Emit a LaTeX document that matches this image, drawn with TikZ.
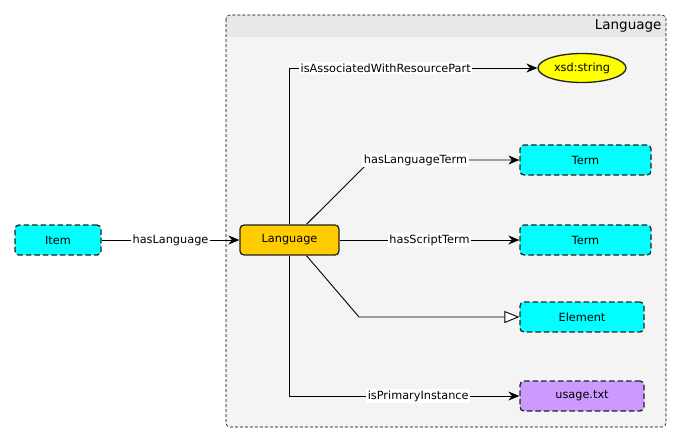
\documentclass[tikz,border=0pt]{standalone}
\usepackage{fontspec}
\setmainfont{DejaVu Sans}
\usetikzlibrary{arrows.meta,shapes.geometric}
\definecolor{cyanbox}{HTML}{00FFFF}
\definecolor{langbox}{HTML}{FFCC00}
\definecolor{purplebox}{HTML}{CC99FF}
\definecolor{yellowbox}{HTML}{FFFF00}
\definecolor{contbody}{HTML}{F4F4F4}
\definecolor{conthead}{HTML}{E8E8E8}
\definecolor{bordergray}{HTML}{222222}
\begin{document}
\begin{tikzpicture}[x=1pt,y=-1pt,
  every node/.style={font=\fontsize{11.3}{13}\selectfont},
  box/.style={rectangle, rounded corners=4pt, line width=1.3pt, draw=bordergray, minimum height=30pt, inner sep=2pt},
  dbox/.style={box, dash pattern=on 5.5pt off 3pt},
  edge/.style={draw=black, line width=0.9pt, -{Stealth[length=11pt,width=9pt]}},
  subedge/.style={draw=black, line width=0.9pt, -{Triangle[open,length=15pt,width=12pt,fill=white]}},
  lbl/.style={fill=white, inner sep=1.5pt, text=black}
]
\useasboundingbox (0,0) rectangle (682,442);
% container
\fill[contbody, rounded corners=4pt] (226,15) rectangle (666,427);
\begin{scope}
  \clip[rounded corners=4pt] (226,15) rectangle (666,427);
  \fill[conthead] (226,15) rectangle (666,37);
\end{scope}
\draw[black, line width=0.6pt, dash pattern=on 3pt off 2pt, rounded corners=4pt] (226,15) rectangle (666,427);
\node[anchor=east, font=\fontsize{13.5}{15}\selectfont] (title) at (665,26) {Language};

% nodes
\node[dbox, fill=cyanbox, minimum width=86pt] (item) at (58,240) {Item};
\node[box, fill=langbox, minimum width=99pt] (lang) at (289.5,240) {Language};
\node[ellipse, draw=bordergray, line width=1.3pt, fill=yellowbox, minimum width=88pt, minimum height=29pt, inner sep=1pt] (xsd) at (582,68) {xsd:string};
\node[dbox, fill=cyanbox, minimum width=131pt] (t1) at (585.5,160) {Term};
\node[dbox, fill=cyanbox, minimum width=131pt] (t2) at (585.5,240) {Term};
\node[dbox, fill=cyanbox, minimum width=124pt] (elem) at (582,317) {Element};
\node[dbox, fill=purplebox, minimum width=124pt] (usage) at (582,396) {usage.txt};

% edges
\draw[edge] (item) -- node[lbl]{hasLanguage} (lang);
\draw[edge] (lang.north) |- node[lbl, pos=0.694]{isAssociatedWithResourcePart} (xsd.west);
\draw[edge] ([xshift=17pt]lang.north) -- (371,160) -- node[lbl, pos=0.3]{hasLanguageTerm} (t1.west);
\draw[edge] (lang) -- node[lbl]{hasScriptTerm} (t2);
\draw[subedge] ([xshift=17pt]lang.south) -- (359,317) -- (elem.west);
\draw[edge] (lang.south) |- node[lbl, pos=0.78]{isPrimaryInstance} (usage.west);
\end{tikzpicture}
\end{document}
